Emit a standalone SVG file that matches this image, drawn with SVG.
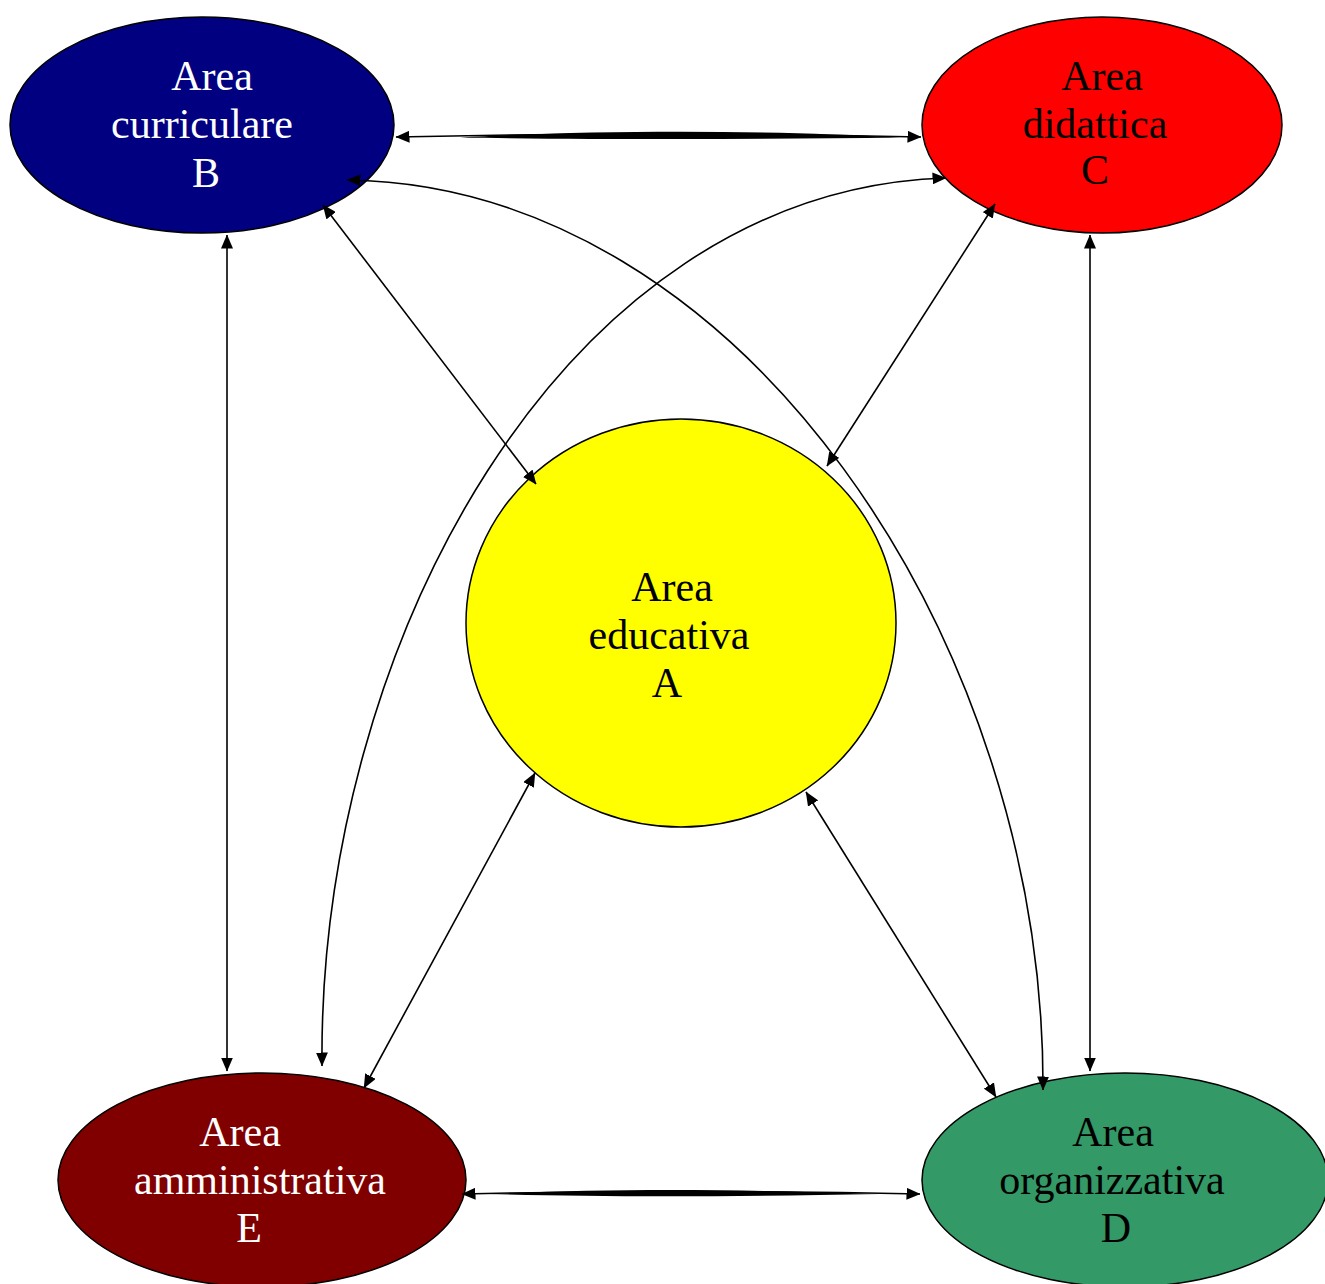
<svg xmlns="http://www.w3.org/2000/svg" width="1325" height="1284" viewBox="0 0 1325 1284">
<style>
.node{stroke:#000;stroke-width:1.5}
.lbl{font-family:"Liberation Serif","Times New Roman",serif;font-size:42px;text-anchor:middle}
.w{fill:#fff}
.k{fill:#000}
.c{fill:none;stroke:#000;stroke-width:1.6}
.thick{fill:#000;stroke:none}
</style>
<defs>
<marker id="ah" viewBox="0 0 14 12" refX="13.5" refY="6" markerWidth="14" markerHeight="12" markerUnits="userSpaceOnUse" orient="auto-start-reverse">
<path d="M0,0 L14,6 L0,12 Z" fill="#000"/>
</marker>
</defs>
<rect width="1325" height="1284" fill="#fff"/>
<g id="nodeB">
<ellipse class="node" cx="202" cy="125" rx="192" ry="108" fill="#000080"/>
<text class="lbl w" x="212" y="90">Area</text>
<text class="lbl w" x="202" y="138">curriculare</text>
<text class="lbl w" x="206" y="187">B</text>
</g>
<g id="nodeC">
<ellipse class="node" cx="1102" cy="125" rx="180" ry="108" fill="#ff0000"/>
<text class="lbl k" x="1102" y="90">Area</text>
<text class="lbl k" x="1095" y="138">didattica</text>
<text class="lbl k" x="1095" y="184">C</text>
</g>
<g id="nodeA">
<ellipse class="node" cx="681" cy="623" rx="215" ry="204" fill="#ffff00"/>
<text class="lbl k" x="672" y="601">Area</text>
<text class="lbl k" x="669" y="649">educativa</text>
<text class="lbl k" x="667" y="697">A</text>
</g>
<g id="nodeE">
<ellipse class="node" cx="262" cy="1180" rx="204" ry="107" fill="#800000"/>
<text class="lbl w" x="240" y="1146">Area</text>
<text class="lbl w" x="260" y="1194">amministrativa</text>
<text class="lbl w" x="249" y="1242">E</text>
</g>
<g id="nodeD">
<ellipse class="node" cx="1125" cy="1180" rx="203" ry="107" fill="#339966"/>
<text class="lbl k" x="1113" y="1146">Area</text>
<text class="lbl k" x="1112" y="1194">organizzativa</text>
<text class="lbl k" x="1116" y="1242">D</text>
</g>
<g id="connectors">
<path class="c" d="M396,137 Q660,131 921,137" marker-start="url(#ah)" marker-end="url(#ah)"/>
<path class="thick" d="M460,137.5 C590,130 760,129.5 900,137.5 C760,139.5 590,139.5 460,137.5 Z"/>
<path class="c" d="M462,1194 Q690,1189 920,1194" marker-start="url(#ah)" marker-end="url(#ah)"/>
<path class="thick" d="M490,1194 C600,1189 720,1188.5 880,1194 C720,1197 600,1197 490,1194 Z"/>
<path class="c" d="M227,235 L227,1071" marker-start="url(#ah)" marker-end="url(#ah)"/>
<path class="c" d="M1090,235 L1090,1071" marker-start="url(#ah)" marker-end="url(#ah)"/>
<path class="c" d="M323,205 L536,484" marker-start="url(#ah)" marker-end="url(#ah)"/>
<path class="c" d="M995,204 L827,466" marker-start="url(#ah)" marker-end="url(#ah)"/>
<path class="c" d="M535,773 L364,1088" marker-start="url(#ah)" marker-end="url(#ah)"/>
<path class="c" d="M806,792 L996,1097" marker-start="url(#ah)" marker-end="url(#ah)"/>
<path class="c" d="M347,180 C740,185 1045,640 1043,1090" marker-start="url(#ah)" marker-end="url(#ah)"/>
<path class="c" d="M946,178 C560,190 318,650 322,1066" marker-start="url(#ah)" marker-end="url(#ah)"/>
</g>
</svg>
